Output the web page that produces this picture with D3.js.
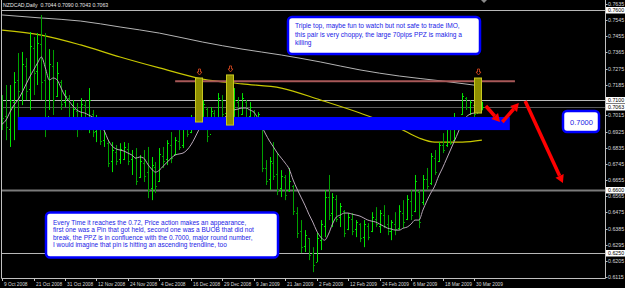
<!DOCTYPE html>
<html>
<head>
<meta charset="utf-8">
<script src="https://cdn.jsdelivr.net/npm/d3@7"></script>
<style>
  body { margin: 0; background: #000; }
  svg { display: block; font-family: "Liberation Sans", Arial, sans-serif; }
</style>
</head>
<body>
<svg id="chart" width="625" height="288"></svg>
<script>
// NZDCAD daily, 9 Oct 2008 .. 1 Apr 2009 (weekdays, no Xmas / New Year bar)
var dates = d3.timeDay.range(new Date(2008, 9, 9), new Date(2009, 3, 2))
  .filter(function(d) {
    var wd = d.getDay();
    var md = d.getMonth() * 100 + d.getDate();
    return wd !== 0 && wd !== 6 && md !== 1125 && md !== 1;
  });

var opens = [
  0.7050,0.7010,0.6940,0.7090,0.7210,0.7140,0.7290,0.7160,0.7390,0.7260,
  0.7410,0.7210,0.7010,0.7290,0.7120,0.7200,0.7090,0.7110,0.6990,0.7040,
  0.6960,0.7070,0.6990,0.7020,0.6930,0.6980,0.6880,0.6860,0.6760,0.6810,0.6770,
  0.6770,0.6830,0.6770,0.6780,0.6670,0.6750,0.6700,0.6610,0.6730,0.6650,
  0.6790,0.6770,0.6850,0.6800,0.6870,0.6850,0.6940,0.6920,0.6990,0.6990,
  0.7000,0.7050,0.6910,0.7030,0.6990,0.7100,0.7030,0.7120,0.7000,0.7090,
  0.7020,0.7090,0.7010,0.7040,0.6990,0.7000,0.6720,0.6660,0.6750,0.6690,
  0.6610,0.6670,0.6600,0.6620,0.6470,0.6370,0.6290,0.6330,0.6250,0.6200,
  0.6320,0.6400,0.6560,0.6470,0.6550,0.6450,0.6480,0.6380,0.6440,0.6380,
  0.6410,0.6340,0.6400,0.6370,0.6440,0.6400,0.6460,0.6410,0.6370,0.6410,
  0.6390,0.6470,0.6440,0.6540,0.6480,0.6590,0.6530,0.6660,0.6640,0.6780,
  0.6760,0.6850,0.6850,0.6940,0.6880,0.7000,0.7020,0.7110,0.7060,0.7070,
  0.7030,0.7044
];
var highs = [
  0.7128,0.7184,0.7184,0.7256,0.7362,0.7368,0.7334,0.7479,0.7451,0.7473,
  0.7574,0.7473,0.7384,0.7379,0.7312,0.7212,0.7156,0.7128,0.7100,0.7084,
  0.7111,0.7100,0.7167,0.7045,0.7017,0.7006,0.6972,0.6877,0.6866,0.6850,0.6860,
  0.6866,0.6861,0.6822,0.6833,0.6794,0.6822,0.6839,0.6783,0.6755,0.6833,
  0.6839,0.6877,0.6922,0.6894,0.6944,0.6961,0.7006,0.7017,0.7100,0.7223,
  0.7100,0.7061,0.7061,0.7045,0.7139,0.7128,0.7156,0.7240,0.7167,0.7117,
  0.7139,0.7100,0.7089,0.7045,0.7033,0.7006,0.6766,0.6783,0.6866,0.6805,
  0.6710,0.6683,0.6722,0.6627,0.6504,0.6432,0.6376,0.6332,0.6281,0.6360,
  0.6432,0.6599,0.6683,0.6582,0.6571,0.6527,0.6488,0.6471,0.6471,0.6432,
  0.6415,0.6432,0.6415,0.6476,0.6504,0.6488,0.6515,0.6460,0.6432,0.6476,
  0.6515,0.6543,0.6571,0.6599,0.6683,0.6599,0.6683,0.6722,0.6805,0.6822,
  0.6866,0.6916,0.6961,0.6989,0.7028,0.7006,0.7139,0.7117,0.7100,0.7072,
  0.7223,0.7090
];
var lows = [
  0.6933,0.6877,0.6839,0.6877,0.6989,0.7072,0.7100,0.7045,0.7128,0.7184,
  0.7100,0.6894,0.7045,0.7017,0.7117,0.7045,0.7061,0.6989,0.6933,0.6894,
  0.6933,0.6944,0.6916,0.6894,0.6866,0.6850,0.6839,0.6727,0.6699,0.6738,0.6745,
  0.6766,0.6738,0.6683,0.6627,0.6666,0.6644,0.6554,0.6543,0.6582,0.6644,
  0.6722,0.6738,0.6749,0.6794,0.6822,0.6833,0.6894,0.6916,0.6944,0.6978,
  0.6961,0.6866,0.6961,0.6961,0.6978,0.7000,0.6989,0.6961,0.6950,0.6972,
  0.7017,0.6972,0.6989,0.6972,0.6944,0.6699,0.6627,0.6599,0.6655,0.6571,
  0.6560,0.6543,0.6588,0.6460,0.6332,0.6248,0.6254,0.6209,0.6142,0.6198,
  0.6265,0.6337,0.6432,0.6393,0.6421,0.6393,0.6337,0.6376,0.6348,0.6337,
  0.6309,0.6281,0.6320,0.6365,0.6393,0.6360,0.6387,0.6348,0.6320,0.6348,
  0.6376,0.6387,0.6432,0.6432,0.6476,0.6387,0.6515,0.6599,0.6627,0.6683,
  0.6755,0.6805,0.6839,0.6850,0.6877,0.6933,0.7017,0.7045,0.7017,0.7006,
  0.7028,0.7043
];
var closes = [
  0.7000,0.6950,0.7100,0.7200,0.7150,0.7300,0.7150,0.7400,0.7250,0.7420,
  0.7200,0.7000,0.7300,0.7100,0.7250,0.7080,0.7120,0.7000,0.7050,0.6950,
  0.7080,0.6980,0.7100,0.6920,0.6990,0.6870,0.6950,0.6750,0.6820,0.6760,0.6830,
  0.6840,0.6760,0.6790,0.6650,0.6760,0.6680,0.6600,0.6740,0.6620,0.6800,
  0.6760,0.6860,0.6780,0.6880,0.6840,0.6950,0.6910,0.7000,0.6960,0.7010,
  0.7080,0.6900,0.7040,0.6980,0.7110,0.7020,0.7130,0.7000,0.7100,0.7000,
  0.7110,0.7000,0.7060,0.6990,0.7020,0.6720,0.6650,0.6760,0.6680,0.6600,
  0.6680,0.6570,0.6650,0.6480,0.6360,0.6280,0.6350,0.6240,0.6180,0.6330,
  0.6410,0.6560,0.6460,0.6560,0.6440,0.6510,0.6360,0.6450,0.6370,0.6420,
  0.6330,0.6410,0.6340,0.6450,0.6410,0.6470,0.6400,0.6370,0.6420,0.6380,
  0.6480,0.6420,0.6550,0.6460,0.6650,0.6420,0.6660,0.6620,0.6790,0.6700,
  0.6850,0.6820,0.6940,0.6860,0.7000,0.6950,0.7120,0.7060,0.7090,0.7020,
  0.7044,0.7063
];
// fast moving average, one value per bar
var fastMa = [
  0.6966,0.6989,0.7033,0.7072,0.7100,0.7139,0.7184,0.7228,0.7267,0.7306,
  0.7340,0.7279,0.7212,0.7223,0.7212,0.7167,0.7123,0.7095,0.7067,0.7045,
  0.7033,0.7028,0.7017,0.7006,0.6989,0.6961,0.6928,0.6877,0.6844,0.6828,0.6822,
  0.6816,0.6805,0.6794,0.6777,0.6783,0.6777,0.6744,0.6716,0.6699,0.6710,
  0.6733,0.6755,0.6777,0.6794,0.6800,0.6805,0.6822,0.6850,0.6889,0.6933,
  0.6966,0.6966,0.6955,0.6972,0.6989,0.6994,0.7011,0.7028,0.7045,0.7050,
  0.7056,0.7056,0.7045,0.7033,0.7000,0.6955,0.6911,0.6872,0.6839,0.6805,
  0.6777,0.6749,0.6716,0.6655,0.6605,0.6560,0.6515,0.6465,0.6421,0.6371,
  0.6337,0.6320,0.6354,0.6410,0.6449,0.6460,0.6471,0.6471,0.6465,0.6460,
  0.6454,0.6443,0.6432,0.6426,0.6421,0.6410,0.6398,0.6387,0.6382,0.6376,
  0.6376,0.6387,0.6393,0.6410,0.6432,0.6432,0.6488,0.6538,0.6582,0.6621,
  0.6677,0.6722,0.6772,0.6822,0.6872,0.6922,0.6978,0.7006,0.7022,0.7028,
  0.7033,0.7033
];
// the two slow averages, read every ~10 bars
var midMaIdx = [0, 10, 20, 30, 40, 51, 61, 71, 81, 91, 101, 106, 110, 117, 122];
var midMa = [0.7490, 0.7462, 0.7407, 0.7340, 0.7279, 0.7217, 0.7190, 0.7167, 0.7100, 0.7028, 0.6944, 0.6889, 0.6866, 0.6866, 0.6877];
var slowMaIdx = [0, 10, 20, 30, 40, 51, 61, 71, 81, 91, 101, 112, 122];
var slowMa = [0.7574, 0.7557, 0.7540, 0.7507, 0.7473, 0.7423, 0.7384, 0.7351, 0.7312, 0.7268, 0.7234, 0.7206, 0.7178];

var priceTicks = [0.7635, 0.7545, 0.7455, 0.7365, 0.7275, 0.7185, 0.7015, 0.6925, 0.6835,
  0.6745, 0.6655, 0.6565, 0.6475, 0.6385, 0.6295, 0.6205, 0.6115];
var levels = [0.7600, 0.7100, 0.6600, 0.6250];
var bid = 0.7063;

// chart objects drawn on top
var resistance = { from: 44, to: 130.4, price: 0.7205 };
var zone = { from: 4, to: 129.1, top: 0.7006, bottom: 0.6933 };
var topBars = [50, 58, 121];
var topBoxHigh = [0.7223, 0.7240, 0.7223];
var topBoxLow = [0.6978, 0.6961, 0.7028];
var arrowsIdx = [[123.0, 126.6], [127.2, 131.4], [133.0, 142.6]];
var arrowsPx = [[0.7067, 0.6978], [0.6978, 0.7084], [0.7095, 0.6638]];

var note1 = ['Triple top, maybe fun to watch but not safe to trade IMO,',
  'this pair is very choppy, the large 70pips PPZ is making a',
  'killing'];
var note2 = ['Every Time it reaches the 0.72, Price action makes an appearance,',
  'first one was a Pin that got held, second one was a BUOB that did not',
  'break, the PPZ is in confluence with the 0.7000, major round number,',
  'I would imagine that pin is hitting an ascending trendline, too'];

var svg = d3.select('#chart');
var W = 625, H = 288, right = 605, bottom = 278;

var x = d3.scaleLinear().domain([0, 122]).range([2.1, 481.9]);
var y = d3.scaleLinear().domain([0.6115, 0.7635]).range([277, 4]);
var fmtDate = d3.timeFormat('%-d %b %Y');

svg.append('rect').attr('width', W).attr('height', H).attr('fill', '#000');

var plot = svg.append('g');

// horizontal lines
plot.selectAll('.lvl').data(levels).enter().append('line')
  .attr('x1', 1).attr('x2', right)
  .attr('y1', function(d) { return Math.round(y(d)) + 0.5; })
  .attr('y2', function(d) { return Math.round(y(d)) + 0.5; })
  .attr('stroke', function(d) { return d === 0.66 ? '#7a7a7a' : '#b8b8b8'; })
  .attr('stroke-width', function(d) { return d === 0.66 ? 2 : 1; });
plot.append('line')
  .attr('x1', 1).attr('x2', right)
  .attr('y1', Math.round(y(bid)) + 0.5).attr('y2', Math.round(y(bid)) + 0.5)
  .attr('stroke', '#5a5a5a');

// moving averages
var lineIdx = d3.line()
  .x(function(d) { return x(d[0]); })
  .y(function(d) { return y(d[1]); })
  .curve(d3.curveMonotoneX);

plot.append('path')
  .datum(slowMaIdx.map(function(d, i) { return [d, slowMa[i]]; }))
  .attr('d', lineIdx).attr('fill', 'none').attr('stroke', '#b4b4b4').attr('stroke-width', 1);
plot.append('path')
  .datum(midMaIdx.map(function(d, i) { return [d, midMa[i]]; }))
  .attr('d', lineIdx).attr('fill', 'none').attr('stroke', '#c8c800').attr('stroke-width', 1.2);

// OHLC bars
var bars = plot.selectAll('.bar').data(dates).enter().append('g')
  .attr('stroke', function(d, i) { return closes[i] >= opens[i] ? '#00e400' : '#00a000'; })
  .attr('stroke-width', 1);
bars.append('line')
  .attr('x1', function(d, i) { return Math.round(x(i)) + 0.5; })
  .attr('x2', function(d, i) { return Math.round(x(i)) + 0.5; })
  .attr('y1', function(d, i) { return y(highs[i]); })
  .attr('y2', function(d, i) { return y(lows[i]); });
bars.append('line')
  .attr('x1', function(d, i) { return Math.round(x(i)) - 1; })
  .attr('x2', function(d, i) { return Math.round(x(i)); })
  .attr('y1', function(d, i) { return Math.round(y(opens[i])) + 0.5; })
  .attr('y2', function(d, i) { return Math.round(y(opens[i])) + 0.5; });
bars.append('line')
  .attr('x1', function(d, i) { return Math.round(x(i)) + 1; })
  .attr('x2', function(d, i) { return Math.round(x(i)) + 2; })
  .attr('y1', function(d, i) { return Math.round(y(closes[i])) + 0.5; })
  .attr('y2', function(d, i) { return Math.round(y(closes[i])) + 0.5; });

plot.append('path')
  .datum(fastMa.map(function(d, i) { return [i, d]; }))
  .attr('d', lineIdx).attr('fill', 'none').attr('stroke', '#b8a8b8').attr('stroke-width', 1);

// objects: resistance, zone, highlighted tops, arrows
plot.append('line')
  .attr('x1', x(resistance.from)).attr('x2', x(resistance.to))
  .attr('y1', y(resistance.price)).attr('y2', y(resistance.price))
  .attr('stroke', '#a85858').attr('stroke-width', 2);

plot.append('rect')
  .attr('x', x(zone.from)).attr('y', y(zone.top))
  .attr('width', x(zone.to) - x(zone.from))
  .attr('height', y(zone.bottom) - y(zone.top))
  .attr('fill', '#0000ff');

topBars.forEach(function(b, k) {
  plot.append('rect')
    .attr('x', Math.round(x(b)) - 3.5).attr('y', y(topBoxHigh[k]))
    .attr('width', 7).attr('height', y(topBoxLow[k]) - y(topBoxHigh[k]))
    .attr('fill', '#8f8f00').attr('stroke', '#c8c820').attr('stroke-width', 1);
  var cx = Math.round(x(b)) + 0.5, ty = y(topBoxHigh[k]) - 9;
  plot.append('path')
    .attr('d', 'M' + (cx - 1) + ',' + ty + 'h2v3h1.5l-2.5,3l-2.5,-3h1.5z')
    .attr('fill', 'none').attr('stroke', '#e04a20').attr('stroke-width', 0.8);
});

arrowsIdx.forEach(function(a, k) {
  var x1 = x(a[0]), x2 = x(a[1]), y1 = y(arrowsPx[k][0]), y2 = y(arrowsPx[k][1]);
  var ang = Math.atan2(y2 - y1, x2 - x1), len = 8, wid = 4.5;
  var bx = x2 - len * Math.cos(ang), by = y2 - len * Math.sin(ang);
  plot.append('line')
    .attr('x1', x1).attr('y1', y1).attr('x2', bx).attr('y2', by)
    .attr('stroke', '#ff0000').attr('stroke-width', 3.5);
  plot.append('path')
    .attr('d', 'M' + x2 + ',' + y2 +
      'L' + (bx + wid * Math.sin(ang)) + ',' + (by - wid * Math.cos(ang)) +
      'L' + (bx - wid * Math.sin(ang)) + ',' + (by + wid * Math.cos(ang)) + 'Z')
    .attr('fill', '#ff0000');
});

// shift marker
svg.append('path').attr('d', 'M481,0L487,0L484,3Z').attr('fill', '#8a8a8a');

// frame
svg.append('path')
  .attr('d', 'M1.5,0V' + (bottom + 0.5) + 'H' + (right + 0.5) + 'V0')
  .attr('fill', 'none').attr('stroke', '#c0c0c0');

// price axis
var axisY = svg.append('g').attr('font-size', 5.3);
axisY.selectAll('.tk').data(priceTicks).enter().append('line')
  .attr('x1', right + 0.5).attr('x2', right + 2.5)
  .attr('y1', function(d) { return Math.round(y(d)) + 0.5; })
  .attr('y2', function(d) { return Math.round(y(d)) + 0.5; })
  .attr('stroke', '#c0c0c0');
axisY.selectAll('.lb').data(priceTicks).enter().append('text')
  .attr('x', right + 3).attr('y', function(d) { return y(d) + 2; })
  .attr('fill', '#d8d8d8')
  .text(function(d) { return d.toFixed(4); });

levels.concat([bid]).forEach(function(p) {
  var yy = Math.round(y(p));
  axisY.append('rect').attr('x', right + 1).attr('y', yy - 3).attr('width', 19).attr('height', 6.5)
    .attr('fill', '#fff');
  axisY.append('text').attr('x', right + 3).attr('y', yy + 2).attr('fill', '#000')
    .text(p.toFixed(4));
});

// time axis
var tickIdx = d3.range(0, 121, 8);
var axisX = svg.append('g').attr('font-size', 4.8);
axisX.selectAll('.tk').data(tickIdx).enter().append('line')
  .attr('x1', function(d) { return Math.round(x(d)) + 0.5; })
  .attr('x2', function(d) { return Math.round(x(d)) + 0.5; })
  .attr('y1', bottom).attr('y2', bottom + 3)
  .attr('stroke', '#c0c0c0');
axisX.selectAll('.lb').data(tickIdx).enter().append('text')
  .attr('x', function(d) { return Math.round(x(d)) + 2; })
  .attr('y', 285.5)
  .attr('fill', '#d8d8d8')
  .text(function(d) { return fmtDate(dates[d]); });

svg.append('text').attr('x', 3).attr('y', 6.5).attr('font-size', 5.2).attr('fill', '#e8e8e8')
  .attr('xml:space', 'preserve')
  .text('NZDCAD,Daily  0.7044 0.7090 0.7043 0.7063');

// notes
function noteBox(x0, y0, w, h, lines, fs, lh, tx, ty) {
  var g = svg.append('g');
  g.append('rect').attr('x', x0).attr('y', y0).attr('width', w).attr('height', h)
    .attr('rx', 4).attr('fill', '#fff').attr('stroke', '#0000ff').attr('stroke-width', 2.5);
  g.selectAll('text').data(lines).enter().append('text')
    .attr('x', tx).attr('y', function(d, i) { return ty + i * lh; })
    .attr('font-size', fs).attr('fill', '#1a1ae6')
    .text(function(d) { return d; });
}
noteBox(288, 17, 192, 37, note1, 6.6, 8.7, 295, 28);
noteBox(46, 212.5, 232, 45, note2, 6.5, 7.3, 53, 225);
noteBox(563, 111, 36, 21, ['0.7000'], 7.5, 0, 570, 124.5);
</script>
</body>
